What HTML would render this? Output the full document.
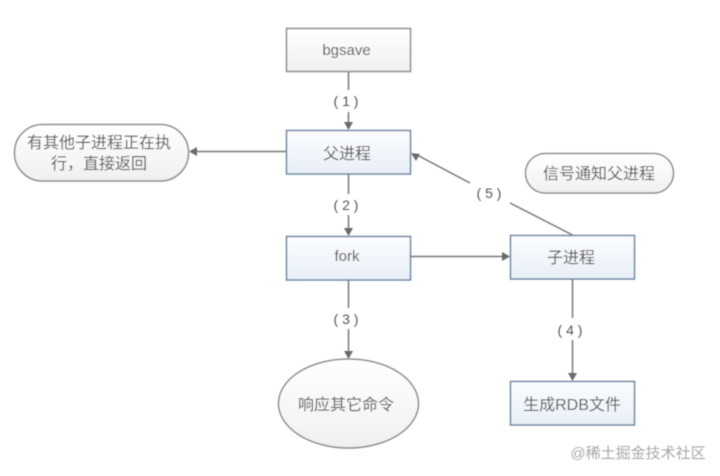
<!DOCTYPE html>
<html>
<head>
<meta charset="utf-8">
<style>
html,body{margin:0;padding:0;background:#fff;width:720px;height:476px;overflow:hidden}
svg{display:block}
text{font-family:"Liberation Sans","Noto Sans CJK SC",sans-serif;fill:#555;text-anchor:middle}
</style>
</head>
<body>
<svg width="720" height="476" viewBox="0 0 720 476" xmlns="http://www.w3.org/2000/svg">
<defs>
<linearGradient id="g" x1="0" y1="0" x2="0" y2="1"><stop offset="0" stop-color="#fff"/><stop offset="1" stop-color="#f0f0f0"/></linearGradient>
<linearGradient id="b" x1="0" y1="0" x2="0" y2="1"><stop offset="0" stop-color="#fcfdff"/><stop offset="1" stop-color="#e8eff7"/></linearGradient>
<filter id="s" x="-5%" y="-5%" width="110%" height="110%"><feGaussianBlur stdDeviation="0.55"/></filter>
</defs>
<g filter="url(#s)">
<g stroke="#777" stroke-width="1.5" fill="none">
<line x1="348.5" y1="71" x2="348.5" y2="90"/>
<line x1="348.5" y1="112" x2="348.5" y2="124"/>
<line x1="286" y1="151.5" x2="195" y2="151.5"/>
<line x1="348.5" y1="174" x2="348.5" y2="194"/>
<line x1="348.5" y1="215" x2="348.5" y2="230"/>
<line x1="410" y1="256.5" x2="504" y2="256.5"/>
<line x1="348.5" y1="280" x2="348.5" y2="308"/>
<line x1="348.5" y1="329" x2="348.5" y2="353"/>
<line x1="572.5" y1="279" x2="572.5" y2="318"/>
<line x1="572.5" y1="340" x2="572.5" y2="375"/>
<line x1="572.5" y1="235" x2="510" y2="203"/>
<line x1="470" y1="183" x2="419" y2="156"/>
</g>
<g fill="#6a6a6a">
<polygon points="348.5,130 344,122 353,122"/>
<polygon points="189,151.5 197,147 197,156"/>
<polygon points="348.5,236 344,228 353,228"/>
<polygon points="510,256.5 502,252 502,261"/>
<polygon points="348.5,359 344,351 353,351"/>
<polygon points="572.5,381 568,373 577,373"/>
<polygon points="411,153 420,154 416,161"/>
</g>
<rect x="286.5" y="28.5" width="124" height="43" fill="url(#g)" stroke="#8c8c8c" stroke-width="1.5"/>
<rect x="286.5" y="130.5" width="124" height="43.5" fill="url(#b)" stroke="#6c86a0" stroke-width="1.5"/>
<rect x="286.5" y="236.5" width="124" height="43.5" fill="url(#b)" stroke="#6c86a0" stroke-width="1.5"/>
<rect x="510.5" y="235.5" width="124" height="43.5" fill="url(#b)" stroke="#6c86a0" stroke-width="1.5"/>
<rect x="510.5" y="381.5" width="124" height="43.5" fill="url(#b)" stroke="#6c86a0" stroke-width="1.5"/>
<rect x="14.5" y="124.5" width="174" height="56.5" rx="28" fill="url(#g)" stroke="#8c8c8c" stroke-width="1.5"/>
<rect x="525.5" y="153.5" width="148" height="39.5" rx="19.7" fill="url(#g)" stroke="#8c8c8c" stroke-width="1.5"/>
<ellipse cx="348.5" cy="403.5" rx="70" ry="44.5" fill="url(#g)" stroke="#8c8c8c" stroke-width="1.5"/>
<g font-size="15">
<text x="346.5" y="55">bgsave</text>
<text x="347" y="261">fork</text>
</g>
<g font-size="16">
<text x="347" y="159">父进程</text>
<text x="571" y="263">子进程</text>
<text x="572" y="410">生成RDB文件</text>
<text x="346" y="410">响应其它命令</text>
<text x="599" y="179">信号通知父进程</text>
<text x="99" y="148">有其他子进程正在执</text>
<text x="99" y="169">行，直接返回</text>
</g>
<g font-size="14">
<text x="346" y="106">( 1 )</text>
<text x="346" y="210">( 2 )</text>
<text x="346" y="324">( 3 )</text>
<text x="570" y="335">( 4 )</text>
<text x="489" y="198">( 5 )</text>
</g>
<text x="638" y="458" font-size="15" style="fill:#a8a8a8">@稀土掘金技术社区</text>
</g>
</svg>
</body>
</html>
